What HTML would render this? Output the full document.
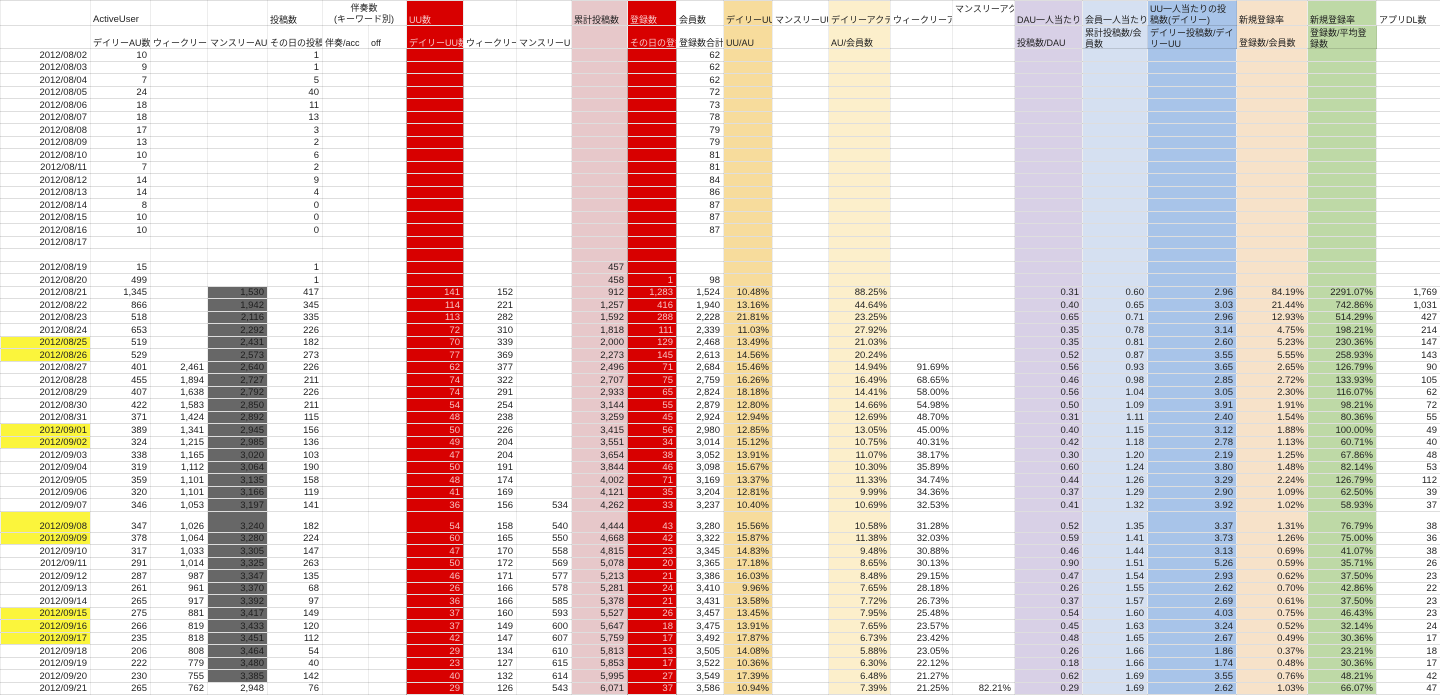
<!DOCTYPE html>
<html><head><meta charset="utf-8">
<style>
html,body{margin:0;padding:0;background:#fff;}
body{width:1440px;height:699px;overflow:hidden;position:relative;font-family:"Liberation Sans","Noto Sans CJK JP",sans-serif;}
table{border-collapse:collapse;table-layout:fixed;width:1440px;position:absolute;left:0;top:0;font-size:9.5px;color:#222;}
td{padding:0 3px 0 2px;border-top:1px solid rgba(0,0,0,.13);border-bottom:1px solid rgba(0,0,0,.13);border-left:1px solid rgba(0,0,0,.07);border-right:1px solid rgba(0,0,0,.07);overflow:hidden;white-space:nowrap;vertical-align:bottom;line-height:10px;}
thead td{text-align:left;font-size:9px;}
thead tr.h1{height:25px}
thead tr.h2{height:22px}
thead td.c{text-align:center;line-height:11px;}
thead td.top{vertical-align:top;padding-top:3px;}
thead td.v{overflow:visible}
.m1{line-height:11px;position:relative;top:1px;}
.m2{line-height:11px;position:relative;top:2px;}
thead td.w{color:#f6c4c4}
thead td.lat{font-size:9.5px}
tbody tr{height:12.5px}
tbody tr.t{height:21.4px}
tbody td{text-align:right;}
tbody td:nth-child(8),tbody td:nth-child(12){color:#f6c0c0}
tbody td:nth-child(7),tbody td:nth-child(8),tbody td:nth-child(11),tbody td:nth-child(12){border-right:1px solid rgba(90,0,0,.35)}
td.g{background:#676767;color:#1e1e1e}
td.y{background:#fbf53c}
col.r{background:#d80000}
col.k{background:#e7c8ca}
col.n{background:#f7dc9c}
col.p{background:#fcefcb}
col.s{background:#d8d0e6}
col.t{background:#d5e0f1}
col.u{background:#a8c4e9}
col.v{background:#f7e2c9}
col.w{background:#bed9a6}
</style></head>
<body>
<table>
<colgroup>
<col style="width:90px">
<col style="width:60px">
<col style="width:57px">
<col style="width:60px">
<col style="width:55px">
<col style="width:46px">
<col style="width:38px">
<col class="r" style="width:57px">
<col style="width:53px">
<col style="width:55px">
<col class="k" style="width:56px">
<col class="r" style="width:49px">
<col style="width:47px">
<col class="n" style="width:49px">
<col style="width:56px">
<col class="p" style="width:62px">
<col style="width:62px">
<col style="width:62px">
<col class="s" style="width:68px">
<col class="t" style="width:65px">
<col class="u" style="width:89px">
<col class="v" style="width:71px">
<col class="w" style="width:69px">
<col style="width:64px">
</colgroup>
<thead>
<tr class="h1">
<td></td>
<td class="lat">ActiveUser</td>
<td></td>
<td></td>
<td>投稿数</td>
<td colspan="2" class="c">伴奏数<br>(キーワード別)</td>
<td class="w">UU数</td>
<td></td>
<td></td>
<td>累計投稿数</td>
<td class="w">登録数</td>
<td>会員数</td>
<td>デイリーUU</td>
<td>マンスリーUU</td>
<td>デイリーアクテ</td>
<td>ウィークリーア</td>
<td class="top">マンスリーアク</td>
<td>DAU一人当たり</td>
<td>会員一人当たり</td>
<td class="v"><div class="m1">UU一人当たりの投<br>稿数(デイリー)</div></td>
<td>新規登録率</td>
<td>新規登録率</td>
<td>アプリDL数</td>
</tr>
<tr class="h2">
<td></td>
<td>デイリーAU数</td>
<td>ウィークリーAU数</td>
<td>マンスリーAU数</td>
<td>その日の投稿数</td>
<td>伴奏/acc</td>
<td>off</td>
<td class="w">デイリーUU数</td>
<td>ウィークリーUU</td>
<td>マンスリーUU</td>
<td></td>
<td class="w">その日の登録数</td>
<td>登録数合計</td>
<td>UU/AU</td>
<td></td>
<td>AU/会員数</td>
<td></td>
<td></td>
<td>投稿数/DAU</td>
<td class="v"><div class="m2">累計投稿数/会<br>員数</div></td>
<td class="v"><div class="m2">デイリー投稿数/デイ<br>リーUU</div></td>
<td>登録数/会員数</td>
<td class="v"><div class="m2">登録数/平均登<br>録数</div></td>
<td></td>
</tr>
</thead>
<tbody>
<tr><td>2012/08/02<td>10<td><td><td>1<td><td><td><td><td><td><td><td>62<td><td><td><td><td><td><td><td><td><td><td>
<tr><td>2012/08/03<td>9<td><td><td>1<td><td><td><td><td><td><td><td>62<td><td><td><td><td><td><td><td><td><td><td>
<tr><td>2012/08/04<td>7<td><td><td>5<td><td><td><td><td><td><td><td>62<td><td><td><td><td><td><td><td><td><td><td>
<tr><td>2012/08/05<td>24<td><td><td>40<td><td><td><td><td><td><td><td>72<td><td><td><td><td><td><td><td><td><td><td>
<tr><td>2012/08/06<td>18<td><td><td>11<td><td><td><td><td><td><td><td>73<td><td><td><td><td><td><td><td><td><td><td>
<tr><td>2012/08/07<td>18<td><td><td>13<td><td><td><td><td><td><td><td>78<td><td><td><td><td><td><td><td><td><td><td>
<tr><td>2012/08/08<td>17<td><td><td>3<td><td><td><td><td><td><td><td>79<td><td><td><td><td><td><td><td><td><td><td>
<tr><td>2012/08/09<td>13<td><td><td>2<td><td><td><td><td><td><td><td>79<td><td><td><td><td><td><td><td><td><td><td>
<tr><td>2012/08/10<td>10<td><td><td>6<td><td><td><td><td><td><td><td>81<td><td><td><td><td><td><td><td><td><td><td>
<tr><td>2012/08/11<td>7<td><td><td>2<td><td><td><td><td><td><td><td>81<td><td><td><td><td><td><td><td><td><td><td>
<tr><td>2012/08/12<td>14<td><td><td>9<td><td><td><td><td><td><td><td>84<td><td><td><td><td><td><td><td><td><td><td>
<tr><td>2012/08/13<td>14<td><td><td>4<td><td><td><td><td><td><td><td>86<td><td><td><td><td><td><td><td><td><td><td>
<tr><td>2012/08/14<td>8<td><td><td>0<td><td><td><td><td><td><td><td>87<td><td><td><td><td><td><td><td><td><td><td>
<tr><td>2012/08/15<td>10<td><td><td>0<td><td><td><td><td><td><td><td>87<td><td><td><td><td><td><td><td><td><td><td>
<tr><td>2012/08/16<td>10<td><td><td>0<td><td><td><td><td><td><td><td>87<td><td><td><td><td><td><td><td><td><td><td>
<tr><td>2012/08/17<td><td><td><td><td><td><td><td><td><td><td><td><td><td><td><td><td><td><td><td><td><td><td><td>
<tr><td><td><td><td><td><td><td><td><td><td><td><td><td><td><td><td><td><td><td><td><td><td><td><td><td>
<tr><td>2012/08/19<td>15<td><td><td>1<td><td><td><td><td><td>457<td><td><td><td><td><td><td><td><td><td><td><td><td>
<tr><td>2012/08/20<td>499<td><td><td>1<td><td><td><td><td><td>458<td>1<td>98<td><td><td><td><td><td><td><td><td><td><td>
<tr><td>2012/08/21<td>1,345<td><td class="g">1,530<td>417<td><td><td>141<td>152<td><td>912<td>1,283<td>1,524<td>10.48%<td><td>88.25%<td><td><td>0.31<td>0.60<td>2.96<td>84.19%<td>2291.07%<td>1,769
<tr><td>2012/08/22<td>866<td><td class="g">1,942<td>345<td><td><td>114<td>221<td><td>1,257<td>416<td>1,940<td>13.16%<td><td>44.64%<td><td><td>0.40<td>0.65<td>3.03<td>21.44%<td>742.86%<td>1,031
<tr><td>2012/08/23<td>518<td><td class="g">2,116<td>335<td><td><td>113<td>282<td><td>1,592<td>288<td>2,228<td>21.81%<td><td>23.25%<td><td><td>0.65<td>0.71<td>2.96<td>12.93%<td>514.29%<td>427
<tr><td>2012/08/24<td>653<td><td class="g">2,292<td>226<td><td><td>72<td>310<td><td>1,818<td>111<td>2,339<td>11.03%<td><td>27.92%<td><td><td>0.35<td>0.78<td>3.14<td>4.75%<td>198.21%<td>214
<tr><td class="y">2012/08/25<td>519<td><td class="g">2,431<td>182<td><td><td>70<td>339<td><td>2,000<td>129<td>2,468<td>13.49%<td><td>21.03%<td><td><td>0.35<td>0.81<td>2.60<td>5.23%<td>230.36%<td>147
<tr><td class="y">2012/08/26<td>529<td><td class="g">2,573<td>273<td><td><td>77<td>369<td><td>2,273<td>145<td>2,613<td>14.56%<td><td>20.24%<td><td><td>0.52<td>0.87<td>3.55<td>5.55%<td>258.93%<td>143
<tr><td>2012/08/27<td>401<td>2,461<td class="g">2,640<td>226<td><td><td>62<td>377<td><td>2,496<td>71<td>2,684<td>15.46%<td><td>14.94%<td>91.69%<td><td>0.56<td>0.93<td>3.65<td>2.65%<td>126.79%<td>90
<tr><td>2012/08/28<td>455<td>1,894<td class="g">2,727<td>211<td><td><td>74<td>322<td><td>2,707<td>75<td>2,759<td>16.26%<td><td>16.49%<td>68.65%<td><td>0.46<td>0.98<td>2.85<td>2.72%<td>133.93%<td>105
<tr><td>2012/08/29<td>407<td>1,638<td class="g">2,792<td>226<td><td><td>74<td>291<td><td>2,933<td>65<td>2,824<td>18.18%<td><td>14.41%<td>58.00%<td><td>0.56<td>1.04<td>3.05<td>2.30%<td>116.07%<td>62
<tr><td>2012/08/30<td>422<td>1,583<td class="g">2,850<td>211<td><td><td>54<td>254<td><td>3,144<td>55<td>2,879<td>12.80%<td><td>14.66%<td>54.98%<td><td>0.50<td>1.09<td>3.91<td>1.91%<td>98.21%<td>72
<tr><td>2012/08/31<td>371<td>1,424<td class="g">2,892<td>115<td><td><td>48<td>238<td><td>3,259<td>45<td>2,924<td>12.94%<td><td>12.69%<td>48.70%<td><td>0.31<td>1.11<td>2.40<td>1.54%<td>80.36%<td>55
<tr><td class="y">2012/09/01<td>389<td>1,341<td class="g">2,945<td>156<td><td><td>50<td>226<td><td>3,415<td>56<td>2,980<td>12.85%<td><td>13.05%<td>45.00%<td><td>0.40<td>1.15<td>3.12<td>1.88%<td>100.00%<td>49
<tr><td class="y">2012/09/02<td>324<td>1,215<td class="g">2,985<td>136<td><td><td>49<td>204<td><td>3,551<td>34<td>3,014<td>15.12%<td><td>10.75%<td>40.31%<td><td>0.42<td>1.18<td>2.78<td>1.13%<td>60.71%<td>40
<tr><td>2012/09/03<td>338<td>1,165<td class="g">3,020<td>103<td><td><td>47<td>204<td><td>3,654<td>38<td>3,052<td>13.91%<td><td>11.07%<td>38.17%<td><td>0.30<td>1.20<td>2.19<td>1.25%<td>67.86%<td>48
<tr><td>2012/09/04<td>319<td>1,112<td class="g">3,064<td>190<td><td><td>50<td>191<td><td>3,844<td>46<td>3,098<td>15.67%<td><td>10.30%<td>35.89%<td><td>0.60<td>1.24<td>3.80<td>1.48%<td>82.14%<td>53
<tr><td>2012/09/05<td>359<td>1,101<td class="g">3,135<td>158<td><td><td>48<td>174<td><td>4,002<td>71<td>3,169<td>13.37%<td><td>11.33%<td>34.74%<td><td>0.44<td>1.26<td>3.29<td>2.24%<td>126.79%<td>112
<tr><td>2012/09/06<td>320<td>1,101<td class="g">3,166<td>119<td><td><td>41<td>169<td><td>4,121<td>35<td>3,204<td>12.81%<td><td>9.99%<td>34.36%<td><td>0.37<td>1.29<td>2.90<td>1.09%<td>62.50%<td>39
<tr><td>2012/09/07<td>346<td>1,053<td class="g">3,197<td>141<td><td><td>36<td>156<td>534<td>4,262<td>33<td>3,237<td>10.40%<td><td>10.69%<td>32.53%<td><td>0.41<td>1.32<td>3.92<td>1.02%<td>58.93%<td>37
<tr class="t"><td class="y">2012/09/08<td>347<td>1,026<td class="g">3,240<td>182<td><td><td>54<td>158<td>540<td>4,444<td>43<td>3,280<td>15.56%<td><td>10.58%<td>31.28%<td><td>0.52<td>1.35<td>3.37<td>1.31%<td>76.79%<td>38
<tr><td class="y">2012/09/09<td>378<td>1,064<td class="g">3,280<td>224<td><td><td>60<td>165<td>550<td>4,668<td>42<td>3,322<td>15.87%<td><td>11.38%<td>32.03%<td><td>0.59<td>1.41<td>3.73<td>1.26%<td>75.00%<td>36
<tr><td>2012/09/10<td>317<td>1,033<td class="g">3,305<td>147<td><td><td>47<td>170<td>558<td>4,815<td>23<td>3,345<td>14.83%<td><td>9.48%<td>30.88%<td><td>0.46<td>1.44<td>3.13<td>0.69%<td>41.07%<td>38
<tr><td>2012/09/11<td>291<td>1,014<td class="g">3,325<td>263<td><td><td>50<td>172<td>569<td>5,078<td>20<td>3,365<td>17.18%<td><td>8.65%<td>30.13%<td><td>0.90<td>1.51<td>5.26<td>0.59%<td>35.71%<td>26
<tr><td>2012/09/12<td>287<td>987<td class="g">3,347<td>135<td><td><td>46<td>171<td>577<td>5,213<td>21<td>3,386<td>16.03%<td><td>8.48%<td>29.15%<td><td>0.47<td>1.54<td>2.93<td>0.62%<td>37.50%<td>23
<tr><td>2012/09/13<td>261<td>961<td class="g">3,370<td>68<td><td><td>26<td>166<td>578<td>5,281<td>24<td>3,410<td>9.96%<td><td>7.65%<td>28.18%<td><td>0.26<td>1.55<td>2.62<td>0.70%<td>42.86%<td>22
<tr><td>2012/09/14<td>265<td>917<td class="g">3,392<td>97<td><td><td>36<td>166<td>585<td>5,378<td>21<td>3,431<td>13.58%<td><td>7.72%<td>26.73%<td><td>0.37<td>1.57<td>2.69<td>0.61%<td>37.50%<td>23
<tr><td class="y">2012/09/15<td>275<td>881<td class="g">3,417<td>149<td><td><td>37<td>160<td>593<td>5,527<td>26<td>3,457<td>13.45%<td><td>7.95%<td>25.48%<td><td>0.54<td>1.60<td>4.03<td>0.75%<td>46.43%<td>23
<tr><td class="y">2012/09/16<td>266<td>819<td class="g">3,433<td>120<td><td><td>37<td>149<td>600<td>5,647<td>18<td>3,475<td>13.91%<td><td>7.65%<td>23.57%<td><td>0.45<td>1.63<td>3.24<td>0.52%<td>32.14%<td>24
<tr><td class="y">2012/09/17<td>235<td>818<td class="g">3,451<td>112<td><td><td>42<td>147<td>607<td>5,759<td>17<td>3,492<td>17.87%<td><td>6.73%<td>23.42%<td><td>0.48<td>1.65<td>2.67<td>0.49%<td>30.36%<td>17
<tr><td>2012/09/18<td>206<td>808<td class="g">3,464<td>54<td><td><td>29<td>134<td>610<td>5,813<td>13<td>3,505<td>14.08%<td><td>5.88%<td>23.05%<td><td>0.26<td>1.66<td>1.86<td>0.37%<td>23.21%<td>18
<tr><td>2012/09/19<td>222<td>779<td class="g">3,480<td>40<td><td><td>23<td>127<td>615<td>5,853<td>17<td>3,522<td>10.36%<td><td>6.30%<td>22.12%<td><td>0.18<td>1.66<td>1.74<td>0.48%<td>30.36%<td>17
<tr><td>2012/09/20<td>230<td>755<td class="g">3,385<td>142<td><td><td>40<td>132<td>614<td>5,995<td>27<td>3,549<td>17.39%<td><td>6.48%<td>21.27%<td><td>0.62<td>1.69<td>3.55<td>0.76%<td>48.21%<td>42
<tr><td>2012/09/21<td>265<td>762<td>2,948<td>76<td><td><td>29<td>126<td>543<td>6,071<td>37<td>3,586<td>10.94%<td><td>7.39%<td>21.25%<td>82.21%<td>0.29<td>1.69<td>2.62<td>1.03%<td>66.07%<td>47
</tbody>
</table>
</body></html>
